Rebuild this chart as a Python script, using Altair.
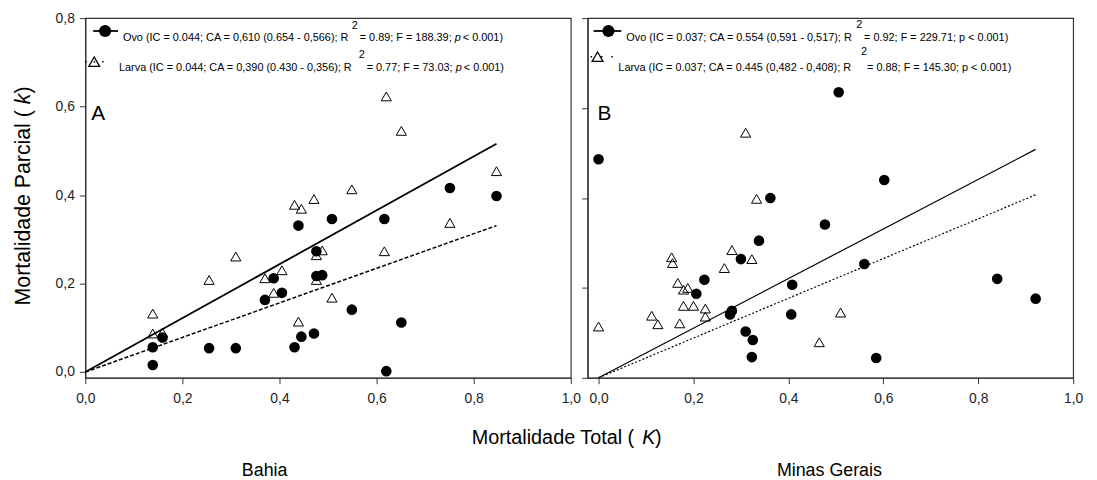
import altair as alt
import pandas as pd

FONT = "Liberation Sans"

# ---------------- data ----------------
# Panel A - Bahia (ovo and larva share the same total mortality K)
bahia_K = [0.139, 0.139, 0.159, 0.255, 0.310, 0.370, 0.388, 0.405, 0.431, 0.439, 0.445,
           0.471, 0.476, 0.476, 0.488, 0.508, 0.549, 0.616, 0.620, 0.651, 0.751, 0.847]
bahia_ovo_k = [0.016, 0.056, 0.078, 0.054, 0.054, 0.163, 0.212, 0.179, 0.056, 0.331, 0.080,
               0.087, 0.273, 0.217, 0.219, 0.346, 0.141, 0.346, 0.002, 0.112, 0.416, 0.398]
bahia_larva_k = [0.132, 0.087, 0.089, 0.208, 0.261, 0.212, 0.179, 0.230, 0.378, 0.114, 0.369,
                 0.391, 0.264, 0.208, 0.275, 0.168, 0.413, 0.273, 0.623, 0.545, 0.337, 0.454]

# Panel B - Minas Gerais
mg_ovo_K = [0.000, 0.206, 0.223, 0.277, 0.281, 0.300, 0.310, 0.323, 0.325, 0.338, 0.362,
            0.406, 0.408, 0.477, 0.506, 0.560, 0.585, 0.602, 0.840, 0.921]
mg_ovo_k = [0.486, 0.187, 0.218, 0.141, 0.149, 0.264, 0.103, 0.046, 0.084, 0.305, 0.400,
            0.141, 0.207, 0.341, 0.635, 0.253, 0.044, 0.440, 0.220, 0.176]
mg_larva_K = [0.000, 0.112, 0.125, 0.154, 0.156, 0.167, 0.171, 0.179, 0.179, 0.188, 0.200,
              0.225, 0.225, 0.265, 0.281, 0.310, 0.323, 0.333, 0.465, 0.510]
mg_larva_k = [0.114, 0.138, 0.119, 0.268, 0.255, 0.211, 0.121, 0.196, 0.160, 0.200, 0.160,
              0.154, 0.136, 0.244, 0.284, 0.545, 0.264, 0.398, 0.079, 0.145]

# fitted regression lines (end points)
fit_A_K = [0.0, 0.847]
fit_A_ovo = [0.0, 0.516]
fit_A_larva = [0.0, 0.331]
fit_B_K = [0.0, 0.921]
fit_B_ovo = [0.0, 0.508]
fit_B_larva = [0.0, 0.407]

ticks = [0.0, 0.2, 0.4, 0.6, 0.8, 1.0]
yticks = [0.0, 0.2, 0.4, 0.6, 0.8]
comma = "replace(format(datum.value, '.1f'), '.', ',')"

one = pd.DataFrame({"d": [0]})
LEG = 11.0


def txt(s, x, y, size=LEG, style="normal", angle=0, align="left", baseline="alphabetic"):
    return alt.Chart(one).mark_text(
        text=s, align=align, baseline=baseline, fontSize=size, fontStyle=style,
        font=FONT, color="black", angle=angle
    ).encode(x=alt.value(x), y=alt.value(y))


def rule(x1, x2, y, dash=None, width=1.5):
    kw = dict(color="black", strokeWidth=width)
    if dash:
        kw["strokeDash"] = dash
    return alt.Chart(one).mark_rule(**kw).encode(x=alt.value(x1), x2=alt.value(x2), y=alt.value(y))


def sym(shape, x, y, size, filled):
    return alt.Chart(one).mark_point(
        shape=shape, size=size, filled=filled, color="black", strokeWidth=1.3, opacity=1
    ).encode(x=alt.value(x), y=alt.value(y))


def panel(K_o, k_o, K_l, k_l, fK, fo, fl, xdom, ydom, show_labels, lw, llw, ldash):
    xs = alt.Scale(domain=xdom, nice=False, zero=False)
    ys = alt.Scale(domain=ydom, nice=False, zero=False)
    xax = alt.Axis(values=ticks, labelExpr=comma, title=None, labelFlush=False,
                   labelOverlap=False, tickSize=6, labelPadding=8, grid=False)
    if show_labels:
        yax = alt.Axis(values=yticks, labelExpr=comma, title=None, tickSize=6,
                       labelPadding=5, grid=False, labelOverlap=False)
    else:
        yax = alt.Axis(values=yticks, labels=False, title=None, tickSize=6, grid=False)

    ovo = pd.DataFrame({"K": K_o, "k": k_o})
    larva = pd.DataFrame({"K": K_l, "k": k_l})
    fit_o = pd.DataFrame({"K": fK, "k": fo})
    fit_l = pd.DataFrame({"K": fK, "k": fl})

    enc = dict(x=alt.X("K:Q", scale=xs, axis=xax), y=alt.Y("k:Q", scale=ys, axis=yax))
    l1 = alt.Chart(fit_o).mark_line(color="black", strokeWidth=lw).encode(**enc)
    l2 = alt.Chart(fit_l).mark_line(color="black", strokeWidth=llw, strokeDash=ldash).encode(**enc)
    p1 = alt.Chart(ovo).mark_point(shape="circle", filled=True, size=115, color="black",
                                   opacity=1).encode(**enc)
    p2 = alt.Chart(larva).mark_point(shape="triangle-up", filled=False, size=105, color="black",
                                     strokeWidth=1.0, opacity=1).encode(**enc)
    return [l1, l2, p1, p2]


W, H = 490, 363

# ---------- panel A ----------
A_layers = panel(bahia_K, bahia_ovo_k, bahia_K, bahia_larva_k, fit_A_K, fit_A_ovo, fit_A_larva,
                 [0.0, 1.0], [-0.013, 0.8], True, 1.8, 1.5, [4, 2])
A_legend = [
    rule(8, 33, 13, width=1.8),
    sym("circle", 20, 13, 150, True),
    txt("Ovo (IC = 0.044; CA = 0,610 (0.654 - 0,566); R", 38, 23),
    txt("2", 269, 11),
    txt("= 0.89; F = 188.39;", 277, 23),
    txt("p", 373, 23, style="italic"),
    txt("< 0.001)", 381, 23),
    rule(0, 19, 44, dash=[1.5, 7], width=1.5),
    sym("triangle-up", 9, 44, 120, False),
    txt("Larva (IC = 0.044; CA = 0,390 (0.430 - 0,356); R", 34, 53),
    txt("2", 276, 40),
    txt("= 0.77; F = 73.03;", 284, 53),
    txt("p", 374, 53, style="italic"),
    txt("< 0.001)", 382, 53),
    txt("A", 6, 103, size=21),
    # y axis title
    txt("Mortalidade Parcial ( ", -62, 290, size=21.5, angle=270, baseline="middle"),
    txt("k", -62, 87, size=21.5, angle=270, baseline="middle", style="italic"),
    txt(" )", -62, 76, size=21.5, angle=270, baseline="middle"),
    # x axis title (shared)
    txt("Mortalidade Total ( ", 390, 430, size=20),
    txt("K", 562, 430, size=20, style="italic"),
    txt(" )", 575, 430, size=20),
    txt("Bahia", 181, 462, size=18, align="center"),
]
chartA = alt.layer(*A_layers, *A_legend).properties(width=W, height=H)

# ---------- panel B ----------
B_layers = panel(mg_ovo_K, mg_ovo_k, mg_larva_K, mg_larva_k, fit_B_K, fit_B_ovo, fit_B_larva,
                 [-0.023, 1.0], [0.0, 0.8], False, 1.2, 1.2, [2, 2])
B_legend = [
    rule(6, 34, 13, width=1.8),
    sym("circle", 21, 13, 150, True),
    txt("Ovo (IC = 0.037; CA = 0.554 (0,591 - 0,517); R", 39, 23),
    txt("2", 271, 10),
    txt("= 0.92; F = 229.71; p < 0.001)", 279, 23),
    rule(3, 28, 39, dash=[1.5, 9], width=1.5),
    sym("triangle-up", 10, 39, 120, False),
    txt("Larva  (IC = 0.037; CA = 0.445 (0,482 - 0,408); R", 31, 53),
    txt("2", 276, 37),
    txt("= 0.88; F = 145.30; p < 0.001)", 282, 53),
    txt("B", 10, 103, size=21),
    txt("Minas Gerais", 244, 462, size=18, align="center"),
]
chartB = alt.layer(*B_layers, *B_legend).properties(width=W, height=H)

chart = alt.hconcat(chartA, chartB, spacing=17, bounds="flush").properties(
    padding={"left": 4, "top": 0, "right": 5, "bottom": 0}
).configure_view(
    stroke="#333", strokeWidth=1.2
).configure_axis(
    domainColor="#333", tickColor="#333", labelFont=FONT, labelColor="#222",
    labelFontSize=14, domainWidth=1.2
)

chart.save("out.html", embed_options={"renderer": "svg", "actions": False})
